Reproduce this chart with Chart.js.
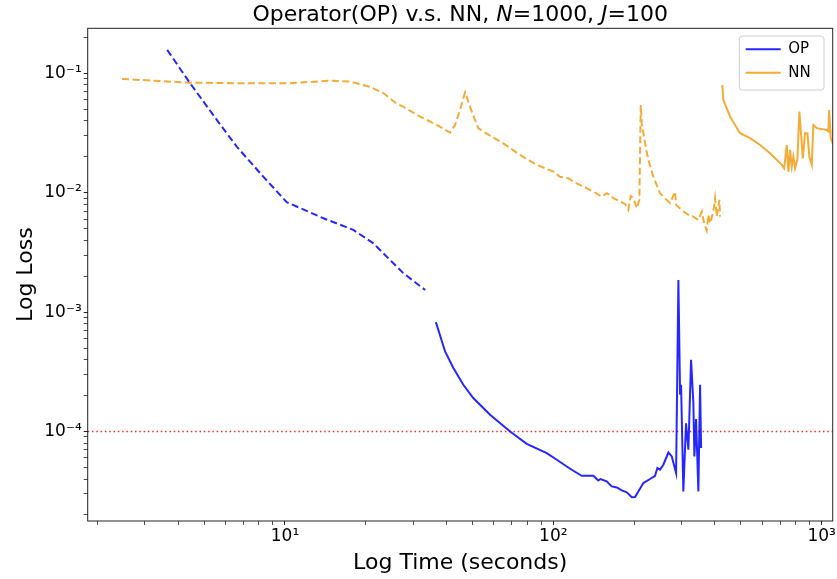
<!DOCTYPE html>
<html>
<head>
<meta charset="utf-8">
<script src="https://cdn.jsdelivr.net/npm/chart.js@4.4.0/dist/chart.umd.min.js"></script>
<style>
  html, body { margin: 0; padding: 0; background: #fff; }
  #wrap { width: 837px; height: 579px; }
</style>
</head>
<body>
<div id="wrap"><canvas id="lossChart" width="837" height="579"></canvas></div>
<script>
// valeurs : temps (s) et loss
const opDashTime = [3.64, 4.43, 5.57, 6.61, 8.30, 10.15, 13.9, 17.97, 21.3, 27.6, 33.3];
const opDashLoss = [0.157, 0.0825, 0.0407, 0.0243, 0.01363, 0.00832, 0.00611, 0.00488, 0.00378, 0.00212, 0.00153];

const opTime = [36.5, 39.5, 42.4, 46.2, 50.3, 58.1, 69.0, 79.6, 94.5, 103, 112.2, 118.7, 127.6, 141, 147, 150,
  158, 165, 172.4, 179.9, 187.8, 196, 201.6, 207.4, 216.5, 229.3, 239.3, 244.1, 249.8, 257, 268.4, 276.3,
  286.7, 292.4, 296.7, 299.2, 305.1, 312.2, 318.6, 326, 332.5, 335.4, 340.3, 347.1, 352.2, 355.3];
const opLoss = [8.24e-4, 4.68e-4, 3.40e-4, 2.46e-4, 1.905e-4, 1.38e-4, 1.0e-4, 7.88e-5, 6.59e-5, 5.80e-5, 5.09e-5, 4.69e-5, 4.26e-5, 4.26e-5, 3.89e-5, 4.0e-5,
  3.82e-5, 3.47e-5, 3.40e-5, 3.21e-5, 3.09e-5, 2.81e-5, 2.83e-5, 3.15e-5, 3.70e-5, 4.0e-5, 4.26e-5, 4.94e-5, 4.79e-5, 5.27e-5, 6.67e-5, 6.18e-5,
  4.49e-5, 1.86e-3, 2.03e-4, 2.46e-4, 3.15e-5, 1.17e-4, 7.03e-5, 3.98e-4, 1.73e-4, 6.18e-5, 1.27e-4, 3.15e-5, 2.46e-4, 7.26e-5];

const nnDashTime = [2.47, 4.43, 6.8, 10.4, 14.7, 17.5, 20.7, 23.3, 26.1, 27.6, 31.9, 36.8, 41.2, 43.0, 44.9, 46.9, 48.9,
  52.5, 55.6, 65.1, 75.1, 86.7, 100, 105.9, 113.7, 118.7, 129.3, 141, 151.5, 158.1, 162.7, 167.3, 177.3, 185,
  190.3, 194.3, 198.7, 204.6, 209.2, 211.7, 213.5, 219.7, 226, 235.9, 249.8, 272.3, 284.2, 286.7, 305.1, 318.6,
  332.5, 347.1, 357.4, 364.6, 373, 378.2, 383.7, 394.7, 400.5, 406.4, 415.6, 418.1];
const nnDashLoss = [0.0896, 0.0834, 0.0825, 0.0825, 0.0867, 0.0851, 0.0772, 0.068, 0.0555, 0.0525, 0.0433, 0.0369, 0.0318, 0.0369, 0.0493, 0.0693, 0.0525,
  0.0347, 0.0318, 0.0259, 0.0207, 0.0171, 0.0150, 0.0136, 0.0132, 0.01238, 0.01124, 0.0102, 0.00927, 0.0099, 0.00958, 0.00899, 0.00842, 0.00805,
  0.00718, 0.0094, 0.00899, 0.00741, 0.0087, 0.0543, 0.0382, 0.0259, 0.0188, 0.0136, 0.0099, 0.00817, 0.0102, 0.0079, 0.00695, 0.00652,
  0.0063, 0.00592, 0.00695, 0.00555, 0.00481, 0.00652, 0.00555, 0.00695, 0.00899, 0.0063, 0.0087, 0.0063];

const nnTime = [426.6, 430, 455.6, 496.4, 540.9, 589.4, 642.2, 710, 724.4, 741, 751.3, 762.3, 773.5, 784.3, 795.8, 811.7,
  825.8, 835.6, 850.3, 867, 884.5, 899.8, 918.6, 931, 958.7, 1044, 1059, 1065.6, 1081, 1099];
const nnLoss = [0.0798, 0.0598, 0.0433, 0.0315, 0.0286, 0.0251, 0.0214, 0.0171, 0.016, 0.0251, 0.015, 0.0228, 0.01653, 0.02, 0.016, 0.0188,
  0.0477, 0.0335, 0.0194, 0.0315, 0.0315, 0.02, 0.0171, 0.0369, 0.0347, 0.0335, 0.0326, 0.0493, 0.0286, 0.0259];

const thresholdLoss = 1e-4;

// axes
const xMin = 1.84, xMax = 1099;
const yMin = 1.78e-5, yMax = 0.238;
const xMajorTicks = [10, 100, 1000];
const xMajorLabels = ['10¹', '10²', '10³'];
const yMajorTicks = [1e-4, 1e-3, 1e-2, 1e-1];
const yMajorLabels = ['10⁻⁴', '10⁻³', '10⁻²', '10⁻¹'];

const opColor = 'rgba(0, 0, 255, 0.85)';
const nnColor = 'rgba(243, 156, 18, 0.85)';
const FONT = '"DejaVu Sans", sans-serif';

Chart.defaults.color = '#000';
Chart.defaults.font.family = FONT;

const pts = (xs, ys) => xs.map((x, i) => ({ x: x, y: ys[i] }));

// ticks log : 1..9 x 10^n dans la plage
function logTicks(min, max) {
    const out = [];
    for (let e = Math.floor(Math.log10(min)); e <= Math.ceil(Math.log10(max)); e++) {
        for (let k = 1; k <= 9; k++) {
            const v = k * Math.pow(10, e);
            if (v >= min && v <= max) out.push(v);
        }
    }
    return out;
}
function majorIndex(v, majors) {
    return majors.findIndex(m => Math.abs(Math.log10(v) - Math.log10(m)) < 1e-6);
}

const titleParts = [
    ['Operator(OP) v.s. NN, ', false],
    ['N', true],
    ['=1000, ', false],
    ['J', true],
    ['=100', false]
];

const decoPlugin = {
    id: 'deco',
    afterLayout(chart) {
        // légende dans le coin haut-droit
        const lg = chart.legend;
        const a = chart.chartArea;
        const w = 92, h = lg.height;
        lg.left = a.right - 95.4;
        lg.top = a.top + 5.1;
        lg.right = lg.left + w;
        lg.bottom = lg.top + h;
    },
    beforeDraw(chart) {
        const ctx = chart.ctx;
        const a = chart.chartArea;
        // cadre de la légende (dessiné avant la légende)
        const fx = a.right - 93.4, fy = a.top + 7.7, fw = 84.7, fh = 54;
        ctx.save();
        ctx.fillStyle = 'rgba(255,255,255,0.8)';
        ctx.strokeStyle = '#d0d0d0';
        ctx.lineWidth = 1;
        ctx.beginPath();
        ctx.roundRect(fx, fy, fw, fh, 3);
        ctx.fill();
        ctx.stroke();
        ctx.restore();
    },
    afterDraw(chart) {
        const ctx = chart.ctx;
        const a = chart.chartArea;
        ctx.save();
        // cadre du graphe
        ctx.strokeStyle = '#222';
        ctx.lineWidth = 1;
        ctx.strokeRect(a.left, a.top, a.right - a.left, a.bottom - a.top);
        // titre avec N et J en italique
        const norm = '22px ' + FONT, ital = 'italic 22px ' + FONT;
        let total = 0;
        titleParts.forEach(([t, it]) => { ctx.font = it ? ital : norm; total += ctx.measureText(t).width; });
        let x = (a.left + a.right) / 2 - total / 2;
        ctx.fillStyle = '#000';
        ctx.textBaseline = 'middle';
        ctx.textAlign = 'left';
        titleParts.forEach(([t, it]) => {
            ctx.font = it ? ital : norm;
            ctx.fillText(t, x, 15);
            x += ctx.measureText(t).width;
        });
        ctx.restore();
    }
};

new Chart(document.getElementById('lossChart'), {
    type: 'line',
    data: {
        datasets: [
            { label: 'OP (dash)', data: pts(opDashTime, opDashLoss), borderColor: opColor, borderWidth: 2, borderDash: [7, 3.5] },
            { label: 'OP', data: pts(opTime, opLoss), borderColor: opColor, borderWidth: 2 },
            { label: 'NN (dash)', data: pts(nnDashTime, nnDashLoss), borderColor: nnColor, borderWidth: 2, borderDash: [7, 3.5] },
            { label: 'NN', data: pts(nnTime, nnLoss), borderColor: nnColor, borderWidth: 2 },
            { label: 'seuil', data: [{ x: xMin, y: thresholdLoss }, { x: xMax, y: thresholdLoss }],
              borderColor: 'rgba(255, 0, 0, 0.85)', borderWidth: 1.5, borderDash: [1.5, 2.8] }
        ]
    },
    options: {
        responsive: false,
        animation: false,
        devicePixelRatio: 1,
        elements: { point: { radius: 0 }, line: { tension: 0, fill: false } },
        layout: { padding: { top: 28.3, right: 4.3, left: 0, bottom: 0 } },
        plugins: {
            title: { display: false },
            tooltip: { enabled: false },
            legend: {
                position: 'chartArea',
                align: 'start',
                labels: {
                    font: { size: 15 },
                    boxWidth: 35,
                    boxHeight: 2,
                    padding: 8.4,
                    generateLabels: () => [
                        { text: 'OP', fillStyle: opColor, strokeStyle: opColor, lineWidth: 0, hidden: false, datasetIndex: 1 },
                        { text: 'NN', fillStyle: nnColor, strokeStyle: nnColor, lineWidth: 0, hidden: false, datasetIndex: 3 }
                    ]
                }
            }
        },
        scales: {
            x: {
                type: 'logarithmic',
                min: xMin,
                max: xMax,
                bounds: 'data',
                afterBuildTicks: (s) => { s.ticks = logTicks(xMin, xMax).map(v => ({ value: v, major: majorIndex(v, xMajorTicks) >= 0 })); },
                afterFit: (s) => { s.height = 58; },
                ticks: {
                    autoSkip: false,
                    maxRotation: 0,
                    padding: 1,
                    font: { size: 17 },
                    callback: (v) => { const i = majorIndex(v, xMajorTicks); return i >= 0 ? xMajorLabels[i] : ''; }
                },
                grid: { drawOnChartArea: false, tickLength: 4, tickColor: '#222', tickWidth: (c) => c.tick && c.tick.major ? 1 : 0.8 },
                border: { display: false },
                title: { display: true, text: 'Log Time (seconds)', font: { size: 22 }, padding: { top: 0, bottom: 2.8 } }
            },
            y: {
                type: 'logarithmic',
                min: yMin,
                max: yMax,
                bounds: 'data',
                afterBuildTicks: (s) => { s.ticks = logTicks(yMin, yMax).map(v => ({ value: v, major: majorIndex(v, yMajorTicks) >= 0 })); },
                afterFit: (s) => { s.width = 87.7; },
                ticks: {
                    autoSkip: false,
                    padding: 2,
                    font: { size: 17 },
                    callback: (v) => { const i = majorIndex(v, yMajorTicks); return i >= 0 ? yMajorLabels[i] : ''; }
                },
                grid: { drawOnChartArea: false, tickLength: 4, tickColor: '#222', tickWidth: (c) => c.tick && c.tick.major ? 1 : 0.8 },
                border: { display: false },
                title: { display: true, text: 'Log Loss', font: { size: 22 }, padding: { top: 12.8, bottom: 0 } }
            }
        }
    },
    plugins: [decoPlugin]
});
</script>
</body>
</html>
